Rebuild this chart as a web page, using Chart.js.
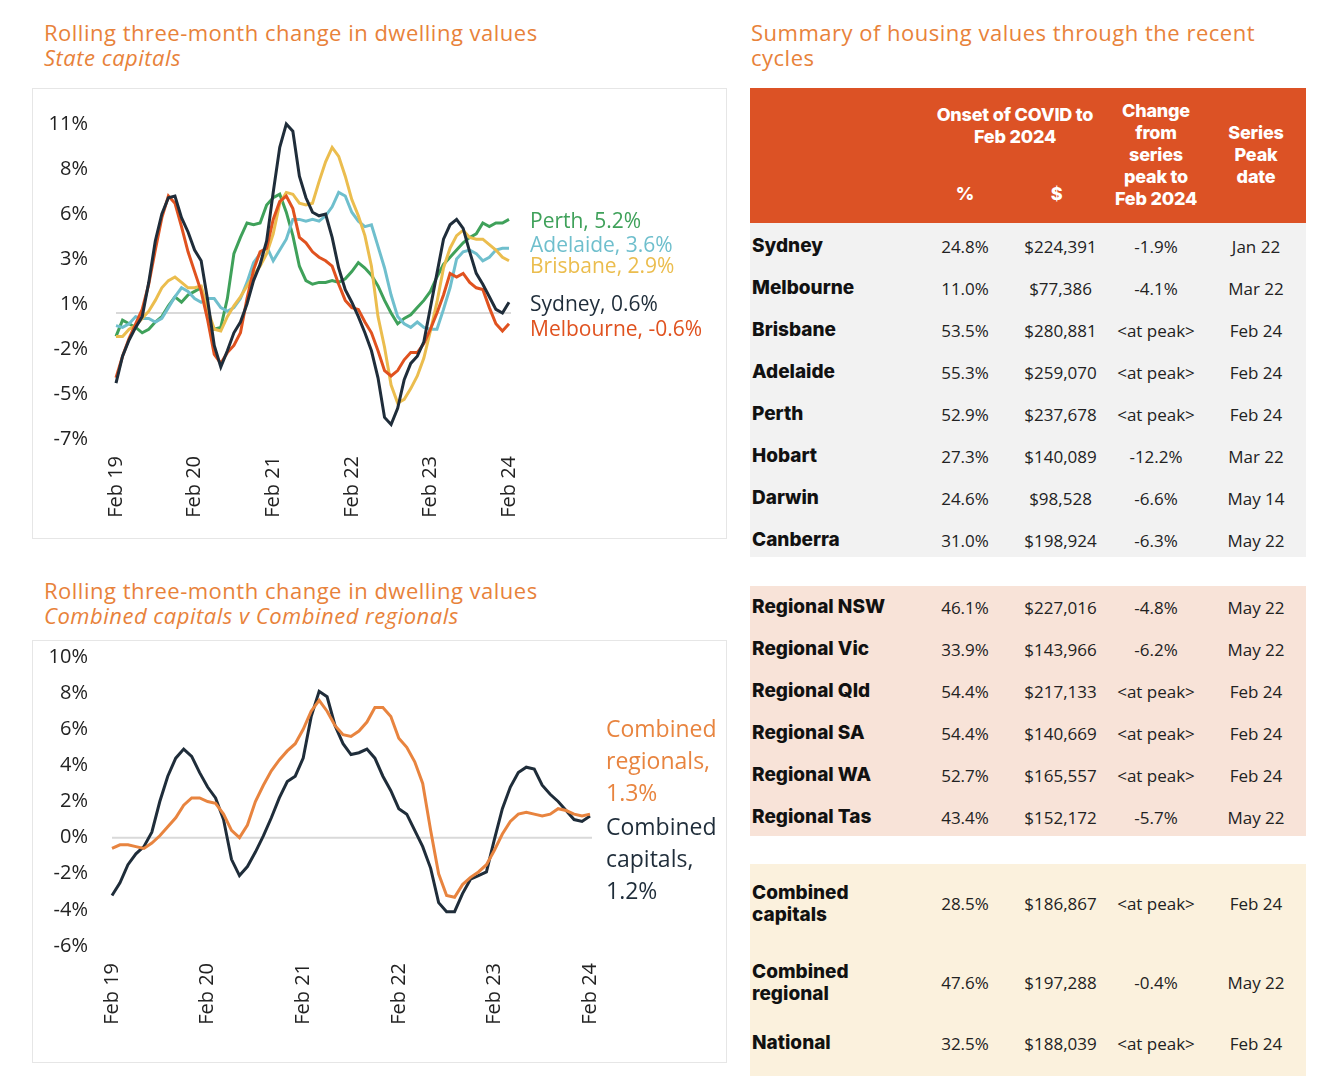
<!DOCTYPE html>
<html><head><meta charset="utf-8">
<script src="https://cdn.jsdelivr.net/npm/chart.js@4.4.1/dist/chart.umd.min.js"></script>
<style>
body{margin:0;width:1326px;height:1076px;position:relative;background:#fff;font-family:"Open Sans",sans-serif;overflow:hidden}
.title{position:absolute;color:#e8823a;font-size:22px;letter-spacing:0.5px;line-height:25px;white-space:nowrap}
.box{position:absolute;border:1px solid #e6e6e6;box-sizing:border-box}
.cw{position:absolute}
.lbl{position:absolute;white-space:nowrap}
.sec{position:absolute;left:750px;width:556px}
.row{display:flex;align-items:center}
.row div{text-align:center;font-size:17px;color:#222}
.row div.nm{text-align:left;padding-left:2px;font-family:Inter,sans-serif;font-weight:800;font-size:19px;color:#111;line-height:22px}
.hd{position:absolute;color:#fff;font-family:Inter,sans-serif;font-weight:800;font-size:18px;line-height:22px;text-align:center;letter-spacing:-0.2px}
</style></head>
<body>
<div class="title" style="left:44px;top:20px">Rolling three-month change in dwelling values<br><i>State capitals</i></div>
<div class="title" style="left:44px;top:578px">Rolling three-month change in dwelling values<br><i>Combined capitals v Combined regionals</i></div>
<div class="title" style="left:751px;top:20px">Summary of housing values through the recent<br>cycles</div>

<div class="box" style="left:32px;top:88px;width:695px;height:451px"></div>
<div class="box" style="left:32px;top:640px;width:695px;height:423px"></div>
<div class="cw" style="left:32px;top:88px;width:695px;height:450px"><canvas id="c1"></canvas></div>
<div class="cw" style="left:32px;top:640px;width:695px;height:422px"><canvas id="c2"></canvas></div>

<div class="lbl" style="left:530px;top:206px;font-size:21px;color:#3fa15a">Perth, 5.2%</div>
<div class="lbl" style="left:530px;top:230px;font-size:21px;color:#6fbfcd">Adelaide, 3.6%</div>
<div class="lbl" style="left:530px;top:251px;font-size:21px;color:#ebbd4e">Brisbane, 2.9%</div>
<div class="lbl" style="left:530px;top:289px;font-size:21px;color:#1f2d3a">Sydney, 0.6%</div>
<div class="lbl" style="left:530px;top:314px;font-size:21px;color:#e0521f">Melbourne, -0.6%</div>

<div class="lbl" style="left:606px;top:712px;font-size:23px;line-height:32px;color:#e8843f">Combined<br>regionals,<br>1.3%</div>
<div class="lbl" style="left:606px;top:810px;font-size:23px;line-height:32px;color:#1f2d3a">Combined<br>capitals,<br>1.2%</div>

<div id="table"></div>

<script>
// ---------- Chart data ----------
const months = ["Jan","Feb","Mar","Apr","May","Jun","Jul","Aug","Sep","Oct","Nov","Dec"];
const categories = [];
for (let k = 0; k <= 60; k++) { const m = (1 + k) % 12; const yr = 19 + Math.floor((1 + k) / 12); categories.push(months[m] + " " + yr); }

const sydney = [-3.9,-2.4,-1.5,-0.8,-0.2,1.7,4.0,5.5,6.4,6.5,5.3,4.5,3.5,2.9,0.7,-1.8,-3.0,-2.1,-1.1,-0.5,0.5,1.8,2.7,4.0,6.7,9.2,10.5,10.1,7.6,6.4,5.6,5.4,5.5,4.2,2.5,1.3,0.6,-0.2,-1.1,-2.1,-3.6,-5.8,-6.2,-5.3,-3.7,-2.8,-2.4,-1.6,0.3,2.2,4.1,4.9,5.2,4.7,3.4,2.2,1.6,0.9,0.2,0.0,0.6];
const melbourne = [-3.6,-2.4,-1.4,-0.6,0.2,1.6,3.5,5.3,6.5,6.1,4.8,3.4,2.3,1.2,-0.4,-2.3,-2.8,-2.2,-1.8,-1.1,0.8,2.4,3.4,3.6,5.2,6.2,6.5,5.8,4.2,3.9,3.4,3.1,2.9,2.6,1.6,0.7,0.3,0.2,-0.5,-1.1,-2.1,-3.2,-3.5,-3.2,-2.6,-2.2,-2.2,-1.7,-0.9,0.0,1.0,2.2,2.0,2.2,1.7,1.4,1.3,0.3,-0.6,-1.0,-0.6];
const brisbane = [-1.3,-1.3,-0.9,-0.7,-0.3,0.1,0.7,1.4,1.8,2.0,1.7,1.4,1.4,1.5,0.2,-0.9,-1.0,-0.2,0.4,0.9,1.5,2.1,2.6,3.3,4.4,6.1,6.7,6.6,6.1,6.0,6.1,7.3,8.4,9.2,8.7,7.6,6.3,5.4,4.3,2.6,-0.2,-1.9,-4.0,-5.0,-4.8,-4.2,-3.5,-2.5,-1.0,0.6,2.5,3.6,4.3,4.6,4.2,4.1,4.1,3.8,3.5,3.1,2.9];
const adelaide = [-0.7,-0.8,-0.6,-0.2,-0.3,-0.3,-0.5,-0.3,0.3,0.9,1.4,1.2,0.8,0.6,0.8,0.8,0.3,0.1,0.3,0.8,1.7,2.8,3.3,3.7,2.9,3.5,4.1,5.2,5.2,5.1,5.2,5.1,5.4,5.9,6.7,6.5,5.6,5.1,4.8,4.9,3.7,2.5,1.0,-0.2,-0.6,-0.8,-0.5,-0.8,-0.9,-0.9,0.2,1.4,3.0,3.4,3.5,3.3,2.9,3.1,3.5,3.6,3.6];
const perth = [-1.3,-0.4,-0.6,-0.8,-1.1,-0.9,-0.5,-0.2,0.4,0.9,0.6,1.0,1.2,1.4,-0.2,-0.9,-0.8,0.8,3.3,4.2,5.0,4.9,5.0,6.0,6.4,6.6,5.6,4.3,2.6,1.8,1.6,1.7,1.7,1.8,1.7,1.9,2.3,2.8,2.5,2.1,1.5,0.7,0.0,-0.6,-0.3,-0.1,0.3,0.7,1.2,2.0,2.7,3.1,3.5,3.9,4.2,4.4,5.0,4.8,5.0,5.0,5.2];

const combinedCapitals = [-3.2,-2.5,-1.5,-0.9,-0.5,0.3,2.0,3.4,4.4,4.9,4.5,3.6,2.8,2.2,1.0,-1.2,-2.1,-1.6,-0.8,0.1,1.1,2.2,3.1,3.4,4.4,6.7,8.1,7.8,6.2,5.2,4.6,4.7,4.9,4.4,3.4,2.6,1.6,1.3,0.4,-0.5,-1.7,-3.6,-4.1,-4.1,-3.1,-2.3,-2.1,-1.9,-0.1,1.6,2.8,3.6,3.9,3.8,2.9,2.4,2.0,1.5,1.0,0.9,1.2];
const combinedRegionals = [-0.6,-0.4,-0.4,-0.5,-0.6,-0.3,0.1,0.6,1.1,1.8,2.2,2.2,2.0,1.9,1.3,0.4,0.0,0.7,2.0,2.9,3.7,4.3,4.8,5.2,6.0,7.0,7.6,7.0,6.2,5.7,5.6,5.9,6.4,7.2,7.2,6.7,5.5,5.0,4.2,3.0,0.4,-2.0,-3.2,-3.3,-2.6,-2.2,-1.9,-1.5,-0.7,0.2,0.9,1.3,1.4,1.3,1.2,1.3,1.6,1.5,1.3,1.2,1.3];

const topTickValues = [-7,-4.5,-2,0.5,3,5.5,8,10.5];
const topTickLabels = ["-7%","-5%","-2%","1%","3%","6%","8%","11%"];
const bottomTickValues = [-6,-4,-2,0,2,4,6,8,10];
const bottomTickLabels = ["-6%","-4%","-2%","0%","2%","4%","6%","8%","10%"];

// ---------- Table data ----------
const capitalRows = [
  ["Sydney","24.8%","$224,391","-1.9%","Jan 22"],
  ["Melbourne","11.0%","$77,386","-4.1%","Mar 22"],
  ["Brisbane","53.5%","$280,881","<at peak>","Feb 24"],
  ["Adelaide","55.3%","$259,070","<at peak>","Feb 24"],
  ["Perth","52.9%","$237,678","<at peak>","Feb 24"],
  ["Hobart","27.3%","$140,089","-12.2%","Mar 22"],
  ["Darwin","24.6%","$98,528","-6.6%","May 14"],
  ["Canberra","31.0%","$198,924","-6.3%","May 22"]
];
const regionalRows = [
  ["Regional NSW","46.1%","$227,016","-4.8%","May 22"],
  ["Regional Vic","33.9%","$143,966","-6.2%","May 22"],
  ["Regional Qld","54.4%","$217,133","<at peak>","Feb 24"],
  ["Regional SA","54.4%","$140,669","<at peak>","Feb 24"],
  ["Regional WA","52.7%","$165,557","<at peak>","Feb 24"],
  ["Regional Tas","43.4%","$152,172","-5.7%","May 22"]
];
const combinedRows = [
  ["Combined<br>capitals","28.5%","$186,867","<at peak>","Feb 24"],
  ["Combined<br>regional","47.6%","$197,288","-0.4%","May 22"],
  ["National","32.5%","$188,039","<at peak>","Feb 24"]
];

// ---------- Table build ----------
const colW = [165,100,91,100,100];
const esc = s => s.replace(/</g,"&lt;").replace(/>/g,"&gt;");
function section(top, height, bg, rows, rowHeights, padTop) {
  let h = `<div class="sec" style="top:${top}px;height:${height}px;background:${bg};padding-top:${padTop}px;box-sizing:border-box">`;
  rows.forEach((r, i) => {
    h += `<div class="row" style="height:${rowHeights[i]}px">`;
    r.forEach((c, j) => { h += `<div class="${j===0?'nm':''}" style="width:${colW[j]}px;box-sizing:border-box">${j===0?c:esc(c)}</div>`; });
    h += `</div>`;
  });
  return h + `</div>`;
}
let th = `<div class="sec" style="top:88px;height:135px;background:#dc5225"></div>`;
th += `<div class="hd" style="left:905px;top:104px;width:220px">Onset of COVID to<br>Feb 2024</div>`;
th += `<div class="hd" style="left:915px;top:183px;width:100px">%</div>`;
th += `<div class="hd" style="left:1011px;top:183px;width:91px">$</div>`;
th += `<div class="hd" style="left:1096px;top:100px;width:120px">Change<br>from<br>series<br>peak to<br>Feb 2024</div>`;
th += `<div class="hd" style="left:1206px;top:122px;width:100px">Series<br>Peak<br>date</div>`;
th += section(223, 334, "#f2f2f2", capitalRows, capitalRows.map(()=>42), 2);
th += section(586, 250, "#f8e3d8", regionalRows, regionalRows.map(()=>42), 0);
th += section(864, 212, "#fbf1dd", combinedRows, [79,79,42], 0);
document.getElementById("table").innerHTML = th;

// ---------- Charts ----------
Chart.defaults.font.family = "'Open Sans', sans-serif";
Chart.defaults.color = "#222";
Chart.defaults.animation = false;

const zeroLine = { id: "zeroLine", beforeDatasetsDraw(chart) {
  const { ctx, chartArea: a, scales: { y } } = chart;
  const py = y.getPixelForValue(0);
  ctx.save(); ctx.strokeStyle = "#d9d9d9"; ctx.lineWidth = 2;
  ctx.beginPath(); ctx.moveTo(a.left, py); ctx.lineTo(a.right + 2, py); ctx.stroke(); ctx.restore();
}};

function ds(label, data, color) {
  return { label, data, borderColor: color, backgroundColor: color, borderWidth: 3, pointRadius: 0, tension: 0, fill: false, clip: false };
}

function makeOptions(min, max, tickVals, tickLabels, leftW, rightPad, topPad, xHeight) {
  return {
    responsive: true, maintainAspectRatio: false, animation: false,
    layout: { padding: { left: 0, right: rightPad, top: topPad, bottom: 0 } },
    plugins: { legend: { display: false }, tooltip: { enabled: false } },
    scales: {
      x: {
        grid: { display: false, drawTicks: false }, border: { display: false },
        ticks: { autoSkip: false, maxRotation: 90, minRotation: 90, padding: 17, font: { size: 20 }, color: "#222",
          callback: (v, i) => (i % 12 === 0 ? categories[i] : "") },
        afterFit: s => { s.height = xHeight; s.paddingLeft = 0; s.paddingRight = 0; }
      },
      y: {
        min, max,
        grid: { display: false, drawTicks: false }, border: { display: false },
        afterBuildTicks: s => { s.ticks = tickVals.map(v => ({ value: v })); },
        ticks: { padding: leftW - 56, font: { size: 20 }, color: "#222", callback: (v, i) => tickLabels[i] },
        afterFit: s => { s.width = leftW; s.paddingTop = 0; s.paddingBottom = 0; }
      }
    }
  };
}

new Chart(document.getElementById("c1"), {
  type: "line",
  data: { labels: categories, datasets: [
    ds("Sydney", sydney, "#1f2d3a"),
    ds("Melbourne", melbourne, "#e0521f"),
    ds("Brisbane", brisbane, "#ebbd4e"),
    ds("Adelaide", adelaide, "#6fbfcd"),
    ds("Perth", perth, "#3fa15a")
  ]},
  options: makeOptions(-7, 10.5, topTickValues, topTickLabels, 84, 218, 36, 99),
  plugins: [zeroLine]
});

new Chart(document.getElementById("c2"), {
  type: "line",
  data: { labels: categories, datasets: [
    ds("Combined regionals", combinedRegionals, "#e8843f"),
    ds("Combined capitals", combinedCapitals, "#1f2d3a")
  ]},
  options: makeOptions(-6, 10, bottomTickValues, bottomTickLabels, 80, 137, 17, 116),
  plugins: [zeroLine]
});
</script>
</body></html>
